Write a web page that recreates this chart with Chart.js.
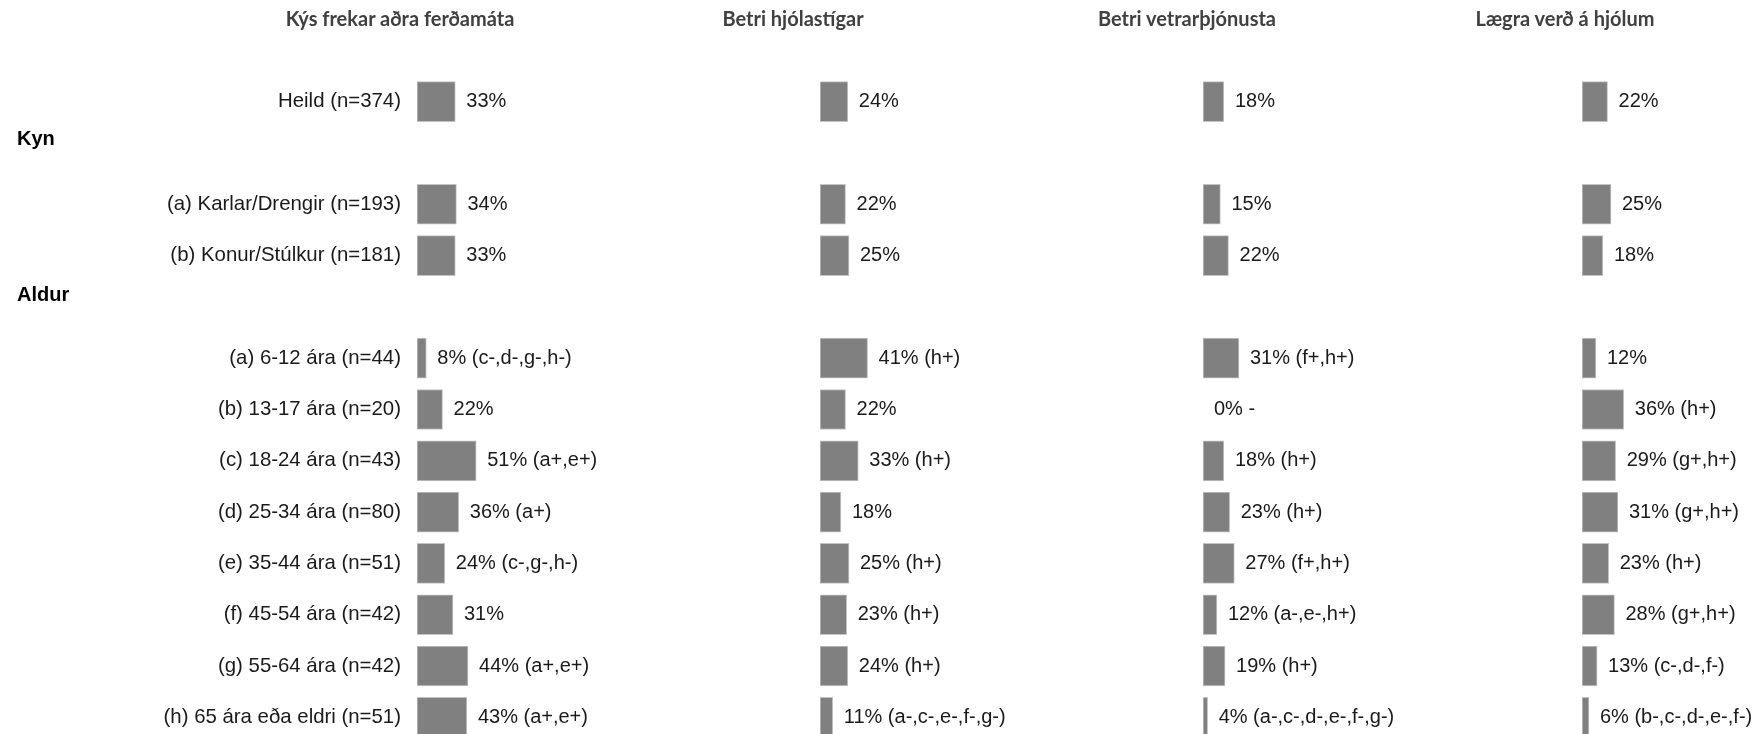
<!DOCTYPE html>
<html>
<head>
<meta charset="utf-8">
<script src="https://cdn.jsdelivr.net/npm/chart.js@4.4.0/dist/chart.umd.min.js"></script>
<style>
  html, body { margin: 0; padding: 0; background: #fff; overflow: hidden; }
  .stage { position: relative; width: 1757px; height: 734px; overflow: hidden; }
  .col-title { position: absolute; top: 18px; transform: translate(-50%, -50%); font: bold 20px Lato, 'Open Sans', sans-serif; color: #404040; white-space: nowrap; }
  .group { position: absolute; left: 17px; transform: translateY(-50%); line-height: 1; font: bold 20px 'Liberation Sans', Arial, sans-serif; color: #000; }
  canvas { position: absolute; top: 0; }
</style>
</head>
<body>
<div class="stage" id="stage">
  <canvas id="c0" width="765" height="760" style="left:0"></canvas>
  <canvas id="c1" width="358" height="760" style="left:810px"></canvas>
  <canvas id="c2" width="358" height="760" style="left:1193px"></canvas>
  <canvas id="c3" width="358" height="760" style="left:1572px"></canvas>
</div>
<script>
// ─── Data ───
const categories = [
  'Heild (n=374)', '',
  '(a) Karlar/Drengir (n=193)', '(b) Konur/Stúlkur (n=181)', '',
  '(a) 6-12 ára (n=44)', '(b) 13-17 ára (n=20)', '(c) 18-24 ára (n=43)', '(d) 25-34 ára (n=80)',
  '(e) 35-44 ára (n=51)', '(f) 45-54 ára (n=42)', '(g) 55-64 ára (n=42)', '(h) 65 ára eða eldri (n=51)'
];
const groupHeaders = ['Kyn', 'Aldur'];
const colTitles = ['Kýs frekar aðra ferðamáta', 'Betri hjólastígar', 'Betri vetrarþjónusta', 'Lægra verð á hjólum'];

const pctOther  = [33, null, 34, 33, null,  8, 22, 51, 36, 24, 31, 44, 43];
const pctPaths  = [24, null, 22, 25, null, 41, 22, 33, 18, 25, 23, 24, 11];
const pctWinter = [18, null, 15, 22, null, 31,  0, 18, 23, 27, 12, 19,  4];
const pctPrice  = [22, null, 25, 18, null, 12, 36, 29, 31, 23, 28, 13,  6];

const notesOther  = ['', '', '', '', '', '(c-,d-,g-,h-)', '', '(a+,e+)', '(a+)', '(c-,g-,h-)', '', '(a+,e+)', '(a+,e+)'];
const notesPaths  = ['', '', '', '', '', '(h+)', '', '(h+)', '', '(h+)', '(h+)', '(h+)', '(a-,c-,e-,f-,g-)'];
const notesWinter = ['', '', '', '', '', '(f+,h+)', '-', '(h+)', '(h+)', '(f+,h+)', '(a-,e-,h+)', '(h+)', '(a-,c-,d-,e-,f-,g-)'];
const notesPrice  = ['', '', '', '', '', '', '(h+)', '(g+,h+)', '(g+,h+)', '(h+)', '(g+,h+)', '(c-,d-,f-)', '(b-,c-,d-,e-,f-)'];

// ─── Look ───
const TEXT_FONT = { family: "'Liberation Sans', Arial, sans-serif", size: 20.4 };
const TEXT_COLOR = '#1a1a1a';
const BAR_COLOR = '#808080';

// value label after each bar
const valueLabels = {
  id: 'valueLabels',
  afterDatasetsDraw(chart, args, opts) {
    const { ctx } = chart;
    const data = chart.data.datasets[0].data;
    ctx.save();
    ctx.font = `20px ${TEXT_FONT.family}`;
    ctx.fillStyle = TEXT_COLOR;
    ctx.textBaseline = 'middle';
    ctx.textAlign = 'left';
    chart.getDatasetMeta(0).data.forEach((bar, i) => {
      if (data[i] === null) return;
      const note = opts.notes[i];
      ctx.fillText(data[i] + '%' + (note ? ' ' + note : ''), bar.x + 11, bar.y);
    });
    ctx.restore();
  }
};

function makeColumn(id, values, notes, withLabels) {
  return new Chart(document.getElementById(id), {
    type: 'bar',
    data: {
      labels: categories,
      datasets: [{
        data: values,
        backgroundColor: BAR_COLOR,
        borderColor: '#c4c4c4',
        borderWidth: 1,
        borderSkipped: false,
        barThickness: 40
      }]
    },
    options: {
      indexAxis: 'y',
      responsive: false,
      animation: false,
      layout: { padding: { top: 76, bottom: 17, left: withLabels ? 0 : 10, right: 0 } },
      plugins: {
        legend: { display: false },
        tooltip: { enabled: false },
        valueLabels: { notes }
      },
      scales: {
        x: { display: false, min: 0, max: 300 },
        y: {
          display: withLabels,
          grid: { display: false, drawTicks: false },
          border: { display: false },
          ticks: { autoSkip: false, padding: 16, color: TEXT_COLOR, font: TEXT_FONT },
          afterFit: s => {
            if (!withLabels) return;
            // fixed label column, and keep all four columns on the same rows
            s.width = 417;
            s.paddingTop = 0;
            s.paddingBottom = 0;
          }
        }
      }
    },
    plugins: [valueLabels]
  });
}

makeColumn('c0', pctOther, notesOther, true);
makeColumn('c1', pctPaths, notesPaths, false);
makeColumn('c2', pctWinter, notesWinter, false);
makeColumn('c3', pctPrice, notesPrice, false);

// ─── Titles & group headers ───
const stage = document.getElementById('stage');
const titleX = [400, 793, 1187, 1565];
colTitles.forEach((t, i) => {
  const d = document.createElement('div');
  d.className = 'col-title';
  d.style.left = titleX[i] + 'px';
  d.textContent = t;
  stage.appendChild(d);
});
const groupY = [138, 294];
groupHeaders.forEach((t, i) => {
  const d = document.createElement('div');
  d.className = 'group';
  d.style.top = groupY[i] + 'px';
  d.textContent = t;
  stage.appendChild(d);
});
</script>
</body>
</html>
